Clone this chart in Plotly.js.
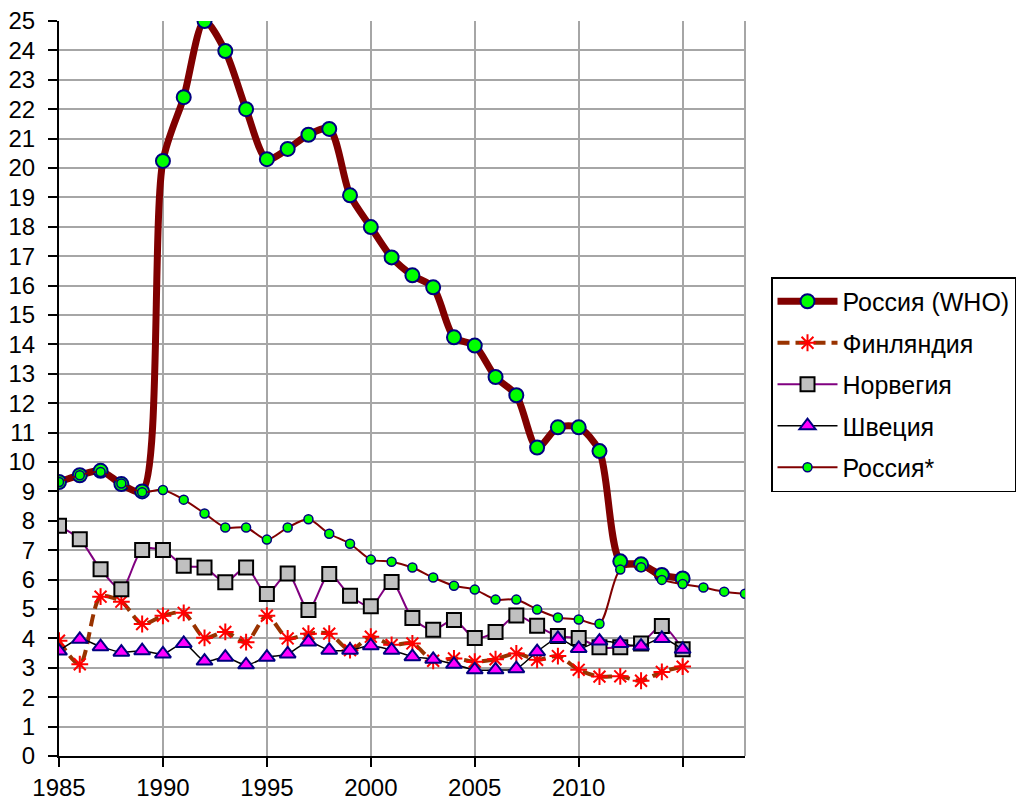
<!DOCTYPE html>
<html>
<head>
<meta charset="utf-8">
<script src="https://cdn.plot.ly/plotly-3.0.1.min.js"></script>
<style>html,body{margin:0;padding:0;background:#fff;}#chart{width:1027px;height:801px;}</style>
</head>
<body>
<div id="chart"></div>
<script>
var years = [1985,1986,1987,1988,1989,1990,1991,1992,1993,1994,1995,1996,1997,1998,1999,2000,2001,2002,2003,2004,2005,2006,2007,2008,2009,2010,2011,2012,2013,2014,2015,2016,2017,2018];
var seriesNames = ["Россия (WHO)", "Финляндия", "Норвегия", "Швеция", "Россия*"];
var russiaWHO = [9.32,9.55,9.7,9.25,9.0,20.24,22.41,25.0,23.98,22.0,20.3,20.65,21.13,21.33,19.07,17.99,16.96,16.35,15.94,14.24,13.96,12.89,12.27,10.49,11.18,11.18,10.37,6.62,6.52,6.16,6.04];
var finland = [3.92,3.12,5.42,5.25,4.49,4.77,4.87,4.02,4.22,3.87,4.77,4.0,4.16,4.16,3.6,4.06,3.78,3.83,3.24,3.32,3.21,3.29,3.49,3.27,3.4,2.93,2.7,2.71,2.56,2.86,3.04];
var norway = [7.83,7.37,6.35,5.67,7.01,7.01,6.47,6.41,5.91,6.41,5.51,6.21,4.97,6.19,5.45,5.09,5.92,4.69,4.29,4.63,4.01,4.22,4.78,4.43,4.08,4.01,3.7,3.7,3.83,4.42,3.63];
var sweden = [3.57,3.97,3.72,3.53,3.58,3.47,3.83,3.23,3.36,3.1,3.36,3.47,3.88,3.6,3.6,3.75,3.6,3.38,3.29,3.12,2.93,2.93,2.97,3.55,4.0,3.66,3.91,3.83,3.74,4.0,3.63];
var russiaStar = [9.32,9.55,9.66,9.27,8.97,9.05,8.72,8.25,7.77,7.77,7.36,7.77,8.05,7.56,7.22,6.68,6.61,6.41,6.07,5.79,5.66,5.32,5.32,4.98,4.71,4.64,4.5,6.34,6.42,5.99,5.85,5.73,5.59,5.52];
var xTicks = [1985,1990,1995,2000,2005,2010,2015];
var xTickLabels = ["1985","1990","1995","2000","2005","2010",""];
var yTicks = [0,1,2,3,4,5,6,7,8,9,10,11,12,13,14,15,16,17,18,19,20,21,22,23,24,25];

var sm = 0.8;
var traces = [
  {x: years.slice(0, russiaWHO.length), y: russiaWHO, name: seriesNames[0], legendgroup: 'a', mode: 'lines+markers',
   line: {color: '#800000', width: 7, shape: 'spline', smoothing: sm},
   marker: {symbol: 'circle', size: 14, color: '#00ff00', line: {color: '#000080', width: 2}}},
  {x: years.slice(0, finland.length), y: finland, name: seriesNames[1], legendgroup: 'b', mode: 'lines+markers',
   line: {color: '#993300', width: 4, shape: 'spline', smoothing: sm, dash: '12px,6px'},
   marker: {symbol: 'asterisk-open', size: 14, color: '#ff0000', line: {color: '#ff0000', width: 2}}},
  {x: years.slice(0, norway.length), y: norway, name: seriesNames[2], legendgroup: 'c', mode: 'lines+markers',
   line: {color: '#800080', width: 2, shape: 'spline', smoothing: sm},
   marker: {symbol: 'square', size: 14, color: '#c0c0c0', line: {color: '#000000', width: 2}}},
  {x: years.slice(0, sweden.length), y: sweden, name: seriesNames[3], legendgroup: 'd', mode: 'lines+markers',
   line: {color: '#000000', width: 1.5, shape: 'spline', smoothing: sm},
   marker: {symbol: 'triangle-up', size: 14, color: '#ff00ff', line: {color: '#000080', width: 2}}},
  {x: years, y: russiaStar, name: seriesNames[4], legendgroup: 'e', mode: 'lines+markers',
   line: {color: '#800000', width: 2, shape: 'spline', smoothing: sm},
   marker: {symbol: 'circle', size: 9, color: '#00ff00', line: {color: '#000080', width: 1.5}}}
];

var layout = {
  width: 1027, height: 801,
  margin: {l: 59, r: 281, t: 21, b: 45, pad: 0},
  paper_bgcolor: '#ffffff', plot_bgcolor: '#ffffff',
  font: {family: 'Liberation Sans, Arial, sans-serif', size: 24, color: '#000000'},
  showlegend: true,
  legend: {x: 1.0364, xanchor: 'left', y: 0.6517, yanchor: 'top', bordercolor: '#000000', borderwidth: 1.5,
           bgcolor: '#ffffff', font: {size: 25, color: '#000000'}, itemwidth: 60, traceorder: 'grouped', tracegroupgap: 6},
  xaxis: {range: [1985, 2018], tickvals: xTicks, ticktext: xTickLabels, ticks: 'outside', ticklen: 9, tickwidth: 2,
          tickcolor: '#000000', showline: true, linecolor: '#000000', linewidth: 2, showgrid: true, gridcolor: '#a6a6a6',
          gridwidth: 2, zeroline: false, fixedrange: true},
  yaxis: {range: [0, 25], tickvals: yTicks, ticktext: yTicks.map(String), ticks: 'outside', ticklen: 9, tickwidth: 2,
          tickcolor: '#000000', showline: true, linecolor: '#000000', linewidth: 2, showgrid: true, gridcolor: '#a6a6a6',
          gridwidth: 2, zeroline: false, ticklabelstandoff: 8, fixedrange: true},
  shapes: [{type: 'line', xref: 'x domain', yref: 'y domain', x0: 1, x1: 1, y0: 0, y1: 1, line: {color: '#a6a6a6', width: 2}, layer: 'below'}]
};

Plotly.newPlot('chart', traces, layout, {displayModeBar: false, staticPlot: true});
</script>
</body>
</html>
